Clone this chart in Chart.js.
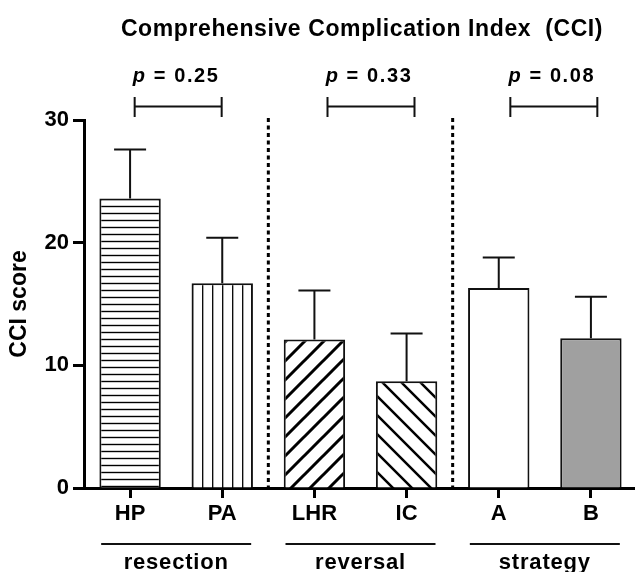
<!DOCTYPE html>
<html>
<head>
<meta charset="utf-8">
<script src="https://cdn.jsdelivr.net/npm/chart.js@4.4.1/dist/chart.umd.min.js"></script>
<style>
  html, body { margin: 0; padding: 0; background: #fff; overflow: hidden; }
  canvas { display: block; }
</style>
</head>
<body>
<canvas id="cciChart" width="640" height="572"></canvas>
<script>
// chart data
const categories = ['HP', 'PA', 'LHR', 'IC', 'A', 'B'];
const meanScores = [23.6, 16.7, 12.1, 8.7, 16.3, 12.2];
const upperErrors = [4.0, 3.7, 4.0, 3.9, 2.5, 3.4];
const groupNames = ['resection', 'reversal', 'strategy'];
const pValues = ['0.25', '0.33', '0.08'];
const yTicks = [0, 10, 20, 30];

const FONT = '"Liberation Sans", Arial, Helvetica, sans-serif';
Chart.defaults.font.family = FONT;
Chart.defaults.color = '#000';

// hatch fills for the bars
function makePattern(kind) {
  const s = kind === 'h' ? 7 : kind === 'v' ? 10 : 19;
  const c = document.createElement('canvas');
  c.width = s; c.height = s;
  const g = c.getContext('2d');
  g.fillStyle = '#fff';
  g.fillRect(0, 0, s, s);
  g.strokeStyle = '#000';
  if (kind === 'h') {
    g.lineWidth = 1.4;
    g.beginPath(); g.moveTo(0, 3.5); g.lineTo(s, 3.5); g.stroke();
  } else if (kind === 'v') {
    g.lineWidth = 1.3;
    g.beginPath(); g.moveTo(2.7, 0); g.lineTo(2.7, s); g.stroke();
  } else if (kind === 'up') {
    g.lineWidth = 3;
    g.beginPath();
    g.moveTo(0, s); g.lineTo(s, 0);
    g.moveTo(-2, 2); g.lineTo(2, -2);
    g.moveTo(s - 2, s + 2); g.lineTo(s + 2, s - 2);
    g.stroke();
  } else {
    g.lineWidth = 2.5;
    g.beginPath();
    g.moveTo(0, 0); g.lineTo(s, s);
    g.moveTo(-2, s - 2); g.lineTo(2, s + 2);
    g.moveTo(s - 2, -2); g.lineTo(s + 2, 2);
    g.stroke();
  }
  return g.createPattern(c, 'repeat');
}

const ctx = document.getElementById('cciChart').getContext('2d');
const fills = [makePattern('h'), makePattern('v'), makePattern('up'), makePattern('down'), '#ffffff', '#a0a0a0'];

function spaced(g, text, x, y, spacing) {
  g.letterSpacing = spacing + 'px';
  g.fillText(text, x, y);
  g.letterSpacing = '0px';
}

const annotations = {
  id: 'annotations',
  beforeDatasetsDraw(chart) {
    const g = chart.ctx, xs = chart.scales.x, ys = chart.scales.y;
    g.save();
    g.strokeStyle = '#000';
    g.lineWidth = 3;
    g.setLineDash([4, 3.5]);
    [[1, 2], [3, 4]].forEach(([a, b]) => {
      const x = (xs.getPixelForValue(a) + xs.getPixelForValue(b)) / 2;
      g.beginPath();
      g.moveTo(x, ys.getPixelForValue(30) - 2);
      g.lineTo(x, ys.getPixelForValue(0));
      g.stroke();
    });
    g.restore();
  },
  afterDatasetsDraw(chart) {
    const g = chart.ctx, ys = chart.scales.y;
    const meta = chart.getDatasetMeta(0);
    g.save();
    g.strokeStyle = '#111';
    g.lineWidth = 2;
    meta.data.forEach((bar, i) => {
      const top = ys.getPixelForValue(meanScores[i] + upperErrors[i]);
      g.beginPath();
      g.moveTo(bar.x, bar.y);
      g.lineTo(bar.x, top);
      g.moveTo(bar.x - 16, top);
      g.lineTo(bar.x + 16, top);
      g.stroke();
    });
    g.restore();
  },
  afterDraw(chart) {
    const g = chart.ctx, xs = chart.scales.x;
    g.save();
    g.fillStyle = '#000';
    g.strokeStyle = '#111';

    // title
    g.font = 'bold 23px ' + FONT;
    g.textAlign = 'center';
    g.textBaseline = 'alphabetic';
    spaced(g, 'Comprehensive Complication Index  (CCI)', 362, 36, 0.6);

    const shifts = [2, 10.5, 9];
    groupNames.forEach((name, k) => {
      const mid = (xs.getPixelForValue(2 * k) + xs.getPixelForValue(2 * k + 1)) / 2;

      // p-value bracket
      const bx = mid + shifts[k];
      g.lineWidth = 2;
      g.beginPath();
      g.moveTo(bx - 43.5, 106.5); g.lineTo(bx + 43.5, 106.5);
      g.moveTo(bx - 43.5, 97); g.lineTo(bx - 43.5, 117);
      g.moveTo(bx + 43.5, 97); g.lineTo(bx + 43.5, 117);
      g.stroke();

      // p-value text
      g.textAlign = 'left';
      g.letterSpacing = '1.6px';
      g.font = 'italic bold 20px ' + FONT;
      const wp = g.measureText('p').width;
      g.font = 'bold 20px ' + FONT;
      const rest = ' = ' + pValues[k];
      const wr = g.measureText(rest).width;
      const x0 = bx - 2 - (wp + wr) / 2;
      g.font = 'italic bold 20px ' + FONT;
      g.fillText('p', x0, 82);
      g.font = 'bold 20px ' + FONT;
      g.fillText(rest, x0 + wp, 82);
      g.letterSpacing = '0px';

      // group underline and name
      g.beginPath();
      g.moveTo(mid - 75, 544); g.lineTo(mid + 75, 544);
      g.stroke();
      g.textAlign = 'center';
      g.font = 'bold 22px ' + FONT;
      spaced(g, name, mid, 569, 0.8);
    });
    g.restore();
  }
};

new Chart(ctx, {
  type: 'bar',
  data: {
    labels: categories,
    datasets: [{
      label: 'CCI score',
      data: meanScores,
      backgroundColor: fills,
      borderColor: '#111',
      borderWidth: 2,
      barPercentage: 0.666,
      categoryPercentage: 1
    }]
  },
  options: {
    responsive: false,
    devicePixelRatio: 1,
    animation: false,
    layout: { padding: { top: 120, right: 3, bottom: 0, left: 0 } },
    plugins: { legend: { display: false }, tooltip: { enabled: false } },
    scales: {
      x: {
        z: 1,
        grid: { offset: false, drawOnChartArea: false, tickLength: 10, tickWidth: 3, tickColor: '#000' },
        border: { display: true, width: 3, color: '#000' },
        ticks: { font: { size: 22, weight: 'bold' }, padding: 3, maxRotation: 0, color: '#000' },
        afterFit(scale) { scale.height = 84; }
      },
      y: {
        z: 1,
        min: 0,
        max: 30,
        afterBuildTicks(scale) { scale.ticks = yTicks.map(v => ({ value: v })); },
        grid: { drawOnChartArea: false, tickLength: 11, tickWidth: 3, tickColor: '#000' },
        border: { display: true, width: 3, color: '#000' },
        ticks: { font: { size: 22, weight: 'bold' }, padding: 4, color: '#000' },
        title: { display: true, text: 'CCI score', font: { size: 23, weight: 'bold' }, padding: { top: 6, bottom: 0 }, color: '#000' },
        afterFit(scale) { scale.width = 84; }
      }
    }
  },
  plugins: [annotations]
});
</script>
</body>
</html>
